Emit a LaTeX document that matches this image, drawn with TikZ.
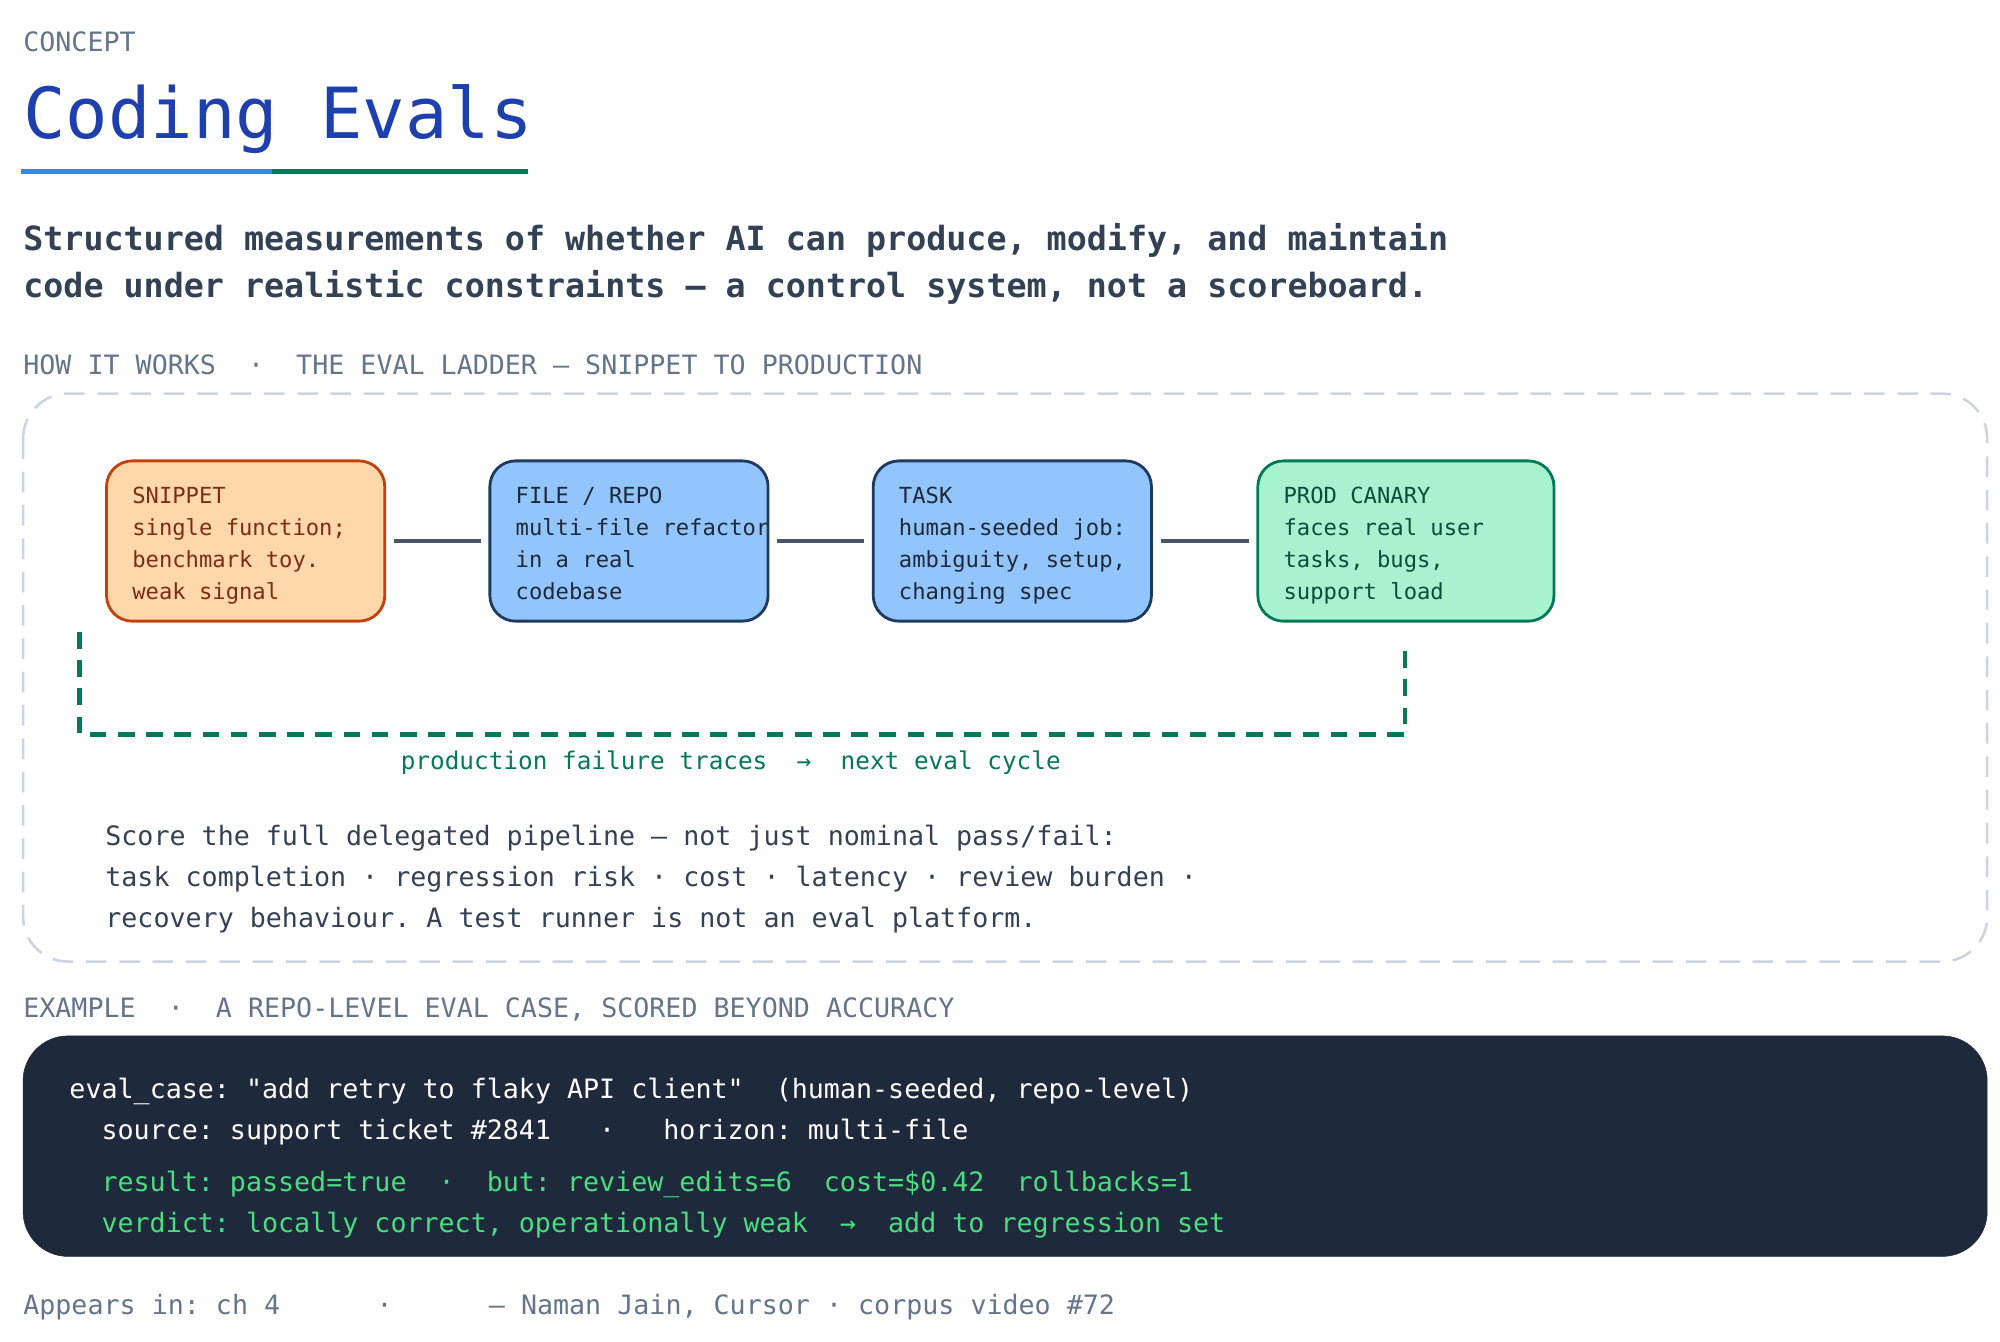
\documentclass[tikz,border=0pt]{standalone}
\usepackage{fontspec}
\setmainfont{DejaVu Sans Mono}[Ligatures=ResetAll]
\setmonofont{DejaVu Sans Mono}
\usetikzlibrary{positioning}
\frenchspacing
\definecolor{ink}{HTML}{334155}
\definecolor{muted}{HTML}{64748B}
\definecolor{titleblue}{HTML}{1E40AF}
\definecolor{lineblue}{HTML}{3B82F6}
\definecolor{deepgreen}{HTML}{047857}
\definecolor{frame}{HTML}{CBD5E1}
\definecolor{slate}{HTML}{1E293B}
\definecolor{codegreen}{HTML}{4ADE80}
\definecolor{snipfill}{HTML}{FED7AA}
\definecolor{snipdraw}{HTML}{C2410C}
\definecolor{sniptext}{HTML}{7C2D12}
\definecolor{repofill}{HTML}{93C5FD}
\definecolor{repodraw}{HTML}{1E3A5F}
\definecolor{prodfill}{HTML}{A7F3D0}
\definecolor{prodtext}{HTML}{064E3B}
\definecolor{link}{HTML}{475569}

\begin{document}
\begin{tikzpicture}[x=1pt, y=-1pt,
        label/.style={anchor=base west, inner sep=0pt, font=\fontsize{20.8}{25}\selectfont, text=muted},
        body/.style={anchor=north west, inner sep=0pt, font=\fontsize{20.8}{32}\selectfont, text=ink, align=left},
        stage/.style={rectangle, rounded corners=20pt, line width=2.2pt, minimum height=125pt,
            minimum width=217pt, anchor=west},
        snippet/.style={stage, fill=snipfill, draw=snipdraw},
        repo/.style={stage, fill=repofill, draw=repodraw},
        prod/.style={stage, fill=prodfill, draw=deepgreen, minimum width=231pt},
        stagetext/.style={anchor=north west, inner sep=0pt, align=left,
            font=\fontsize{17.3}{25}\selectfont},
        link/.style={-, draw=link, line width=3pt, shorten <=6pt, shorten >=6pt},
        feedback/.style={draw=deepgreen, line width=3.5pt, dash pattern=on 13pt off 9pt},
        code/.style={anchor=base west, inner sep=0pt, font=\fontsize{20.8}{25}\selectfont}
    ]
        \useasboundingbox[fill=white] (0,0) rectangle (1560,1046);

        % Header
        \node[label] (kicker) at (18,40) {CONCEPT};
        \node[anchor=base west, inner sep=0pt, font=\fontsize{55}{60}\selectfont, text=titleblue] (title) at (18,108) {Coding Evals};
        \draw[lineblue, line width=4pt] (16,134) -- (212,134);
        \draw[deepgreen, line width=4pt] (212,134) -- (412,134);
        \node[anchor=north west, inner sep=0pt, font=\fontsize{26}{37}\selectfont\bfseries, text=ink, align=left] (lede) at (18,174)
            {Structured measurements of whether AI can produce, modify, and maintain\\code under realistic constraints — a control system, not a scoreboard.};

        % Eval ladder
        \node[label] (how) at (18,292) {HOW IT WORKS\ \ ·\ \ THE EVAL LADDER — SNIPPET TO PRODUCTION};
        \draw[frame, line width=2pt, dash pattern=on 16pt off 10pt, rounded corners=35pt] (18,307) rectangle (1550,750);

        \node[snippet] (snip) at (82,422) {};
        \node[repo] (file) at (381,422) {};
        \node[repo] (task) at (680,422) {};
        \node[prod] (canary) at (980,422) {};
        \node[stagetext, text=sniptext] (sniptxt) at ([xshift=21pt, yshift=-21pt]snip.north west) {SNIPPET\\single function;\\benchmark toy.\\weak signal};
        \node[stagetext, text=slate] (filetxt) at ([xshift=21pt, yshift=-21pt]file.north west) {FILE / REPO\\multi-file refactor\\in a real\\codebase};
        \node[stagetext, text=slate] (tasktxt) at ([xshift=21pt, yshift=-21pt]task.north west) {TASK\\human-seeded job:\\ambiguity, setup,\\changing spec};
        \node[stagetext, text=prodtext] (canarytxt) at ([xshift=21pt, yshift=-21pt]canary.north west) {PROD CANARY\\faces real user\\tasks, bugs,\\support load};
        \draw[link] (snip) -- (file);
        \draw[link] (file) -- (task);
        \draw[link] (task) -- (canary);

        \coordinate (fbA) at (62,493);
        \coordinate (fbB) at (62,573);
        \coordinate (fbC) at (1096,573);
        \coordinate (fbD) at (1096,508);
        \draw[feedback] (fbA) -- (fbB) -- (fbC) -- (fbD);
        \node[anchor=base, inner sep=0pt, font=\fontsize{19}{22}\selectfont, text=deepgreen] (loop) at (570,600)
            {production failure traces\ \ →\ \ next eval cycle};

        \node[body] (score) at (82,643) {Score the full delegated pipeline — not just nominal pass/fail:\\task completion · regression risk · cost · latency · review burden ·\\recovery behaviour. A test runner is not an eval platform.};

        % Example
        \node[label] (ex) at (18,794) {EXAMPLE\ \ ·\ \ A REPO-LEVEL EVAL CASE, SCORED BEYOND ACCURACY};
        \draw[fill=slate, draw=slate, rounded corners=35pt] (18,808) rectangle (1550,980);
        \node[code, text=white] (case) at (54,857) {eval\_case: \textquotedbl add retry to flaky API client\textquotedbl\ \ (human-seeded, repo-level)};
        \node[code, text=white] (src) at (79,889) {source: support ticket \#2841\ \ \ ·\ \ \ horizon: multi-file};
        \node[code, text=codegreen] (res) at (79,929) {result: passed=true\ \ ·\ \ but: review\_edits=6\ \ cost=\$0.42\ \ rollbacks=1};
        \node[code, text=codegreen] (verd) at (79,961) {verdict: locally correct, operationally weak\ \ →\ \ add to regression set};

        % Footer
        \node[label] (foot) at (18,1025) {Appears in: ch 4\ \ \ \ \ \ ·\ \ \ \ \ \ — Naman Jain, Cursor · corpus video \#72};
    \end{tikzpicture}
\end{document}
